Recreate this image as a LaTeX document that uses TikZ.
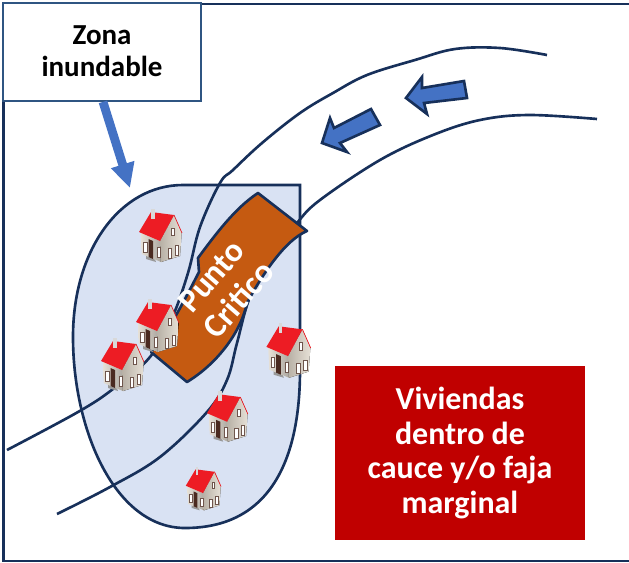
\documentclass[tikz,border=0pt]{standalone}
\usepackage{fontspec}
\setmainfont{Carlito}
\usepackage{tikz}
\usetikzlibrary{arrows.meta}
\definecolor{navy}{HTML}{17305A}
\definecolor{boxblue}{HTML}{2F5582}
\definecolor{arrowblue}{HTML}{4472C4}
\definecolor{zonefill}{HTML}{D9E2F3}
\definecolor{puntofill}{HTML}{C55A11}
\definecolor{vivfill}{HTML}{C00000}
\definecolor{roofred}{HTML}{ED1C24}
\definecolor{wallfront}{HTML}{E6E0D6}
\definecolor{wallside}{HTML}{D8D0C3}
\definecolor{doorbrown}{HTML}{4A2A20}
\tikzset{
	river/.style={navy, line width=1.5pt},
	flecha/.style={draw=navy, fill=arrowblue, line width=1.5pt, line join=miter},
	etiqueta/.style={align=center, font=\fontsize{16.5}{18.2}\selectfont\bfseries},
}
% house: x, y of the centre, scale
\def\casa(#1,#2,#3){
	\begin{scope}[shift={(#1,#2)}, scale=#3]
		\fill[black!40] (-14,18) -- (-6,21) -- (-4,26) -- (-14,23) -- cycle;
		\fill[wallfront, left color=wallfront, right color=black!25!wallfront] (-19,-3) -- (0,5) -- (1,26) -- (-18,18) -- cycle;
		\fill[left color=black!15!wallside, right color=wallfront] (0,5) -- (14,-21) -- (21.7,-3) -- (20,20) -- (1,26) -- cycle;
		\fill[roofred] (-21,-4) -- (-9,-24) -- (14,-21) -- (0,5) -- cycle;
		\draw[roofred, line width=0.4pt] (14,-21) -- (22,-3);
		\fill[black!15] (-9,-27) rectangle (-5.5,-17);
		\fill[doorbrown] (-11.5,3) -- (-7,5) -- (-7,23) -- (-11.5,21) -- cycle;
		\foreach \px/\py in {-16.5/6, -3/11, 8/12, 15/9}
			\draw[doorbrown!80, fill=white, line width=0.35pt] (\px,\py) rectangle ++(3.6,10);
		\draw[doorbrown!80, fill=white, line width=0.35pt] (11,-8) rectangle ++(3,7);
	\end{scope}
}

\begin{document}
\begin{tikzpicture}[x=0.02cm, y=-0.02cm]
	\useasboundingbox (0,0) rectangle (629,562);
	
	% frame
	\draw[navy, line width=1.3pt] (629,3.8) -- (3.5,3.8) -- (3.5,561) -- (629,561);
	
	% flood zone
	\draw[draw=navy, fill=zonefill, line width=1.5pt] (183,185) -- (300,185) -- (300,370)
		.. controls (300,460) and (270,528) .. (185,528)
		.. controls (115,528) and (73,430) .. (73,337)
		.. controls (73,250) and (120,185) .. (183,185) -- cycle;
	
	% river banks
	\draw[river] plot[smooth, tension=0.6] coordinates {(547,55) (500,48) (455,49) (415,60) (367,75) (333,93) (300,113) (262,143) (233,170) (220,183) (200,227) (188,273) (172,318) (150,357) (113,389) (78,412) (7,450)};
	\draw[river] plot[smooth, tension=0.6] coordinates {(597,119) (529,115) (480,120) (433,135) (380,160) (320,200) (297,223) (273,255) (250,297) (237,343) (227,380) (207,412) (160,457) (110,487) (57,514)};
	
	% critical point
	\draw[draw=navy, fill=puntofill, line width=1.5pt, line join=round] (258,193) -- (307,231)
		.. controls (285,240) and (262,275) .. (247,303)
		.. controls (240,335) and (215,365) .. (187,382)
		-- (151,352)
		.. controls (170,330) and (187,295) .. (199,272)
		-- (198,258)
		.. controls (215,235) and (235,208) .. (258,193) -- cycle;
	\node[etiqueta, text=white, rotate=49, font=\fontsize{19}{20.5}\selectfont\bfseries] (punto) at (225,288) {Punto\\Critico};
	
	% houses
	\casa(160,236,1)
	\casa(157,326,1)
	\casa(122,365,1)
	\casa(288,351,1.03)
	\casa(227,417,0.95)
	\casa(203,489,0.82)
	
	% flow arrows
	\draw[flecha] (464,81) -- (467,98) -- (424,103) -- (427,114) -- (406,98) -- (422,77) -- (422,88) -- cycle;
	\draw[flecha] (371,109) -- (380,125) -- (340,143) -- (347,152) -- (322,143) -- (330,118) -- (334,128) -- cycle;
	
	% labels
	\node[etiqueta, draw=boxblue, fill=white, line width=1pt, minimum width=198*0.02cm, minimum height=98*0.02cm] (zona) at (102,52) {\raisebox{1pt}{Zona}\\\raisebox{1pt}{inundable}};
	\coordinate (zonatip) at (130,188);
	\coordinate (zonastart) at (zona.south -| 103,0);
	\draw[arrowblue, line width=5pt, -{Triangle[length=14pt, width=13pt]}] (zonastart) -- (zonatip);
	
	\node[etiqueta, fill=vivfill, text=white, minimum width=250*0.02cm, minimum height=174*0.02cm, font=\fontsize{18.2}{19.8}\selectfont\bfseries] (viviendas) at (460,453) {Viviendas\\dentro de\\cauce y/o faja\\marginal};
\end{tikzpicture}
\end{document}
